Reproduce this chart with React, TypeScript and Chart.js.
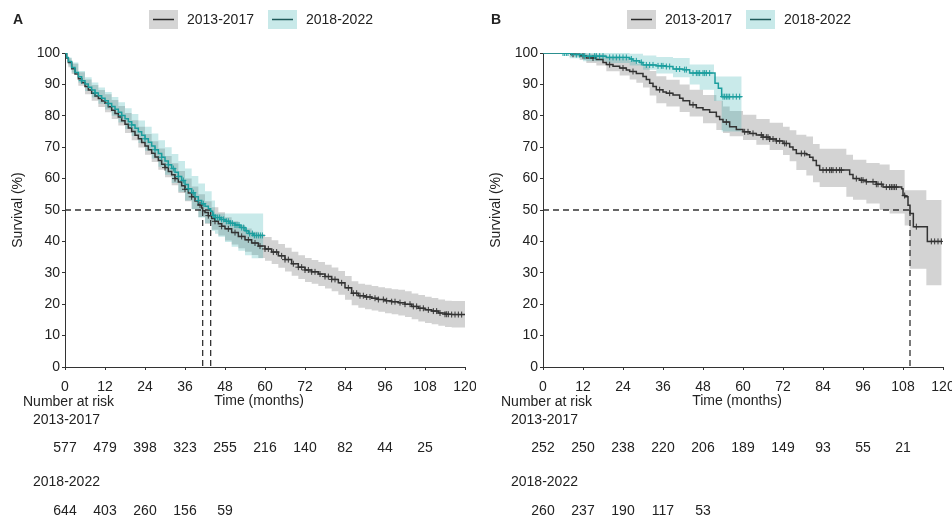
import React, { useEffect, useRef } from 'react';
import { Chart, registerables } from 'chart.js';

Chart.register(...registerables);

const FONT_FAMILY = '"Liberation Sans", Arial, Helvetica, sans-serif';
const TEXT_COLOR = '#222222';

const GROUP_LABELS = ['2013-2017', '2018-2022'];
const LINE_COLORS = ['#333333', '#1b9e9e'];
const LEGEND_LINE_COLORS = ['#2a2a2a', '#1f5a5a'];
const BAND_COLORS = ['rgba(140,140,140,0.38)', 'rgba(40,170,170,0.25)'];
const LEGEND_BOX_COLORS = ['#d5d5d5', '#c8e9e9'];
const RISK_TIMES = [0, 12, 24, 36, 48, 60, 72, 84, 96, 108];

// ---------- Panel A : 2013-2017 ----------
const A_OLD_T = [0,0.5,1,2,3,4,5,6,7,8,9,10,11,12,13,14,15,16,17,18,19,20,21,22,23,24,25,26,27,28,29,30,31,32,33,34,35,36,37,38,39,40,41,41.3,42,43,44,45,46,47,48,50,52,54,56,58,60,62,64,66,68,70,72,74,76,78,80,82,84,86,88,90,92,94,96,98,100,102,104,106,108,110,112,114,116,120];
const A_OLD_S = [100,98.4,97,95,93.3,91.8,90.5,89.3,88.2,87.2,86.3,85.5,84.7,84,82.9,81.8,80.7,79.6,78.4,77.3,76.1,75,73.8,72.7,71.5,70.4,69.2,68.1,66.9,65.8,64.6,63.5,62.3,61.2,60,58.9,57.7,56.6,55.4,54.2,52.9,51.6,50.6,49.8,49.2,48.2,47.3,46.4,45.6,44.8,44,42.8,41.6,40.5,39.5,38.5,37.6,36.6,35.4,34.2,32.9,31.8,30.9,30.3,29.6,28.8,27.9,26.8,25.2,23.5,22.7,22.3,21.9,21.5,21.1,20.8,20.5,20,19.3,18.7,18.2,17.8,17.2,16.8,16.7,16.7];
const A_OLD_BAND_T = [0,1,2,4,6,8,10,12,14,16,18,20,22,24,26,28,30,32,34,36,38,40,42,44,46,48,50,52,54,56,58,60,62,64,66,68,70,72,74,76,78,80,82,84,86,88,90,92,94,96,98,100,102,104,106,108,110,112,114,116,120];
const A_OLD_LO = [100,95.5,93.3,89.6,86.9,84.8,82.8,81.1,79,76.9,74.5,72.2,69.9,67.6,65.3,62.8,60.4,57.9,55.4,52.8,50.3,47.8,45.6,43.7,41.9,40.3,39,37.8,36.7,35.7,34.7,33.8,32.8,31.6,30.4,29.1,28,27.1,26.5,25.8,25,24.1,23,21.4,19.7,18.9,18.4,18,17.6,17.1,16.8,16.4,15.9,15.2,14.5,14,13.6,13.1,12.7,12.6,12.6];
const A_OLD_HI = [100,98.3,96.6,93.9,91.6,89.8,88.2,86.9,85,83.1,80.9,78.6,76.5,74.2,71.9,69.6,67.2,64.9,62.4,60,57.5,55,52.8,50.9,49.3,47.7,46.4,45.2,44.1,43.1,42.3,41.4,40.4,39.2,38,36.7,35.6,34.7,34.1,33.4,32.6,31.7,30.6,29,27.3,26.5,26.2,25.8,25.4,25.1,24.8,24.6,24.1,23.4,22.9,22.4,22,21.5,21.1,21,21];
const A_OLD_CENSOR = [30,33,36,38,40.5,43,45,47,49,51,53,55,57,58.5,60,61,62.5,63.5,65,66,67,68.5,70,71,72,73,74,75,76.5,78,79,80,81,83,85,86.5,87.5,88.5,89.5,90.5,91.5,93,94,95.5,96.5,98,99,100.5,102,103.5,104.5,105.5,106.5,107.5,109,110.5,111.5,112.5,114,114.5,115,116,117,118,119];

// ---------- Panel A : 2018-2022 ----------
const A_NEW_T = [0,0.5,1,2,3,4,5,6,7,8,9,10,11,12,13,14,15,16,17,18,19,20,21,22,23,24,25,26,27,28,29,30,31,32,33,34,35,36,37,38,39,40,41,42,43,43.7,44.3,45,46.5,48,49.5,51,52.5,54,55,56.5,59.5];
const A_NEW_S = [100,98.6,97.3,95.4,93.8,92.4,91.2,90.1,89.1,88.2,87.3,86.4,85.6,84.8,83.9,83,82.1,81.1,80.1,79.1,78.1,77.1,76,74.9,73.8,72.7,71.6,70.4,69.2,68,66.8,65.6,64.4,63.2,62,60.7,59.4,58.1,56.8,55.5,54.2,53,52,51.2,50.4,49.6,48.3,47.6,47,46.4,45.8,45.2,44.4,43.4,42.5,41.9,41.9];
const A_NEW_BAND_T = [0,1,2,4,6,8,10,12,14,16,18,20,22,24,26,28,30,32,34,36,38,40,42,44,45,46,48,50,52,54,56,59.5];
const A_NEW_LO = [100,96,93.8,90.5,87.9,85.8,83.8,82,80,77.9,75.8,73.6,71.3,68.9,66.4,63.8,61.2,58.6,55.8,53,50.2,47.6,45.8,43.4,42.4,41.5,39.8,38.3,37,35.6,34.6,34.6];
const A_NEW_HI = [100,98.6,97,94.3,92.3,90.6,89,87.6,86,84.3,82.4,80.6,78.5,76.5,74.4,72.2,70,67.8,65.6,63.2,60.8,58.4,56,53,48.9,48.9,48.9,48.9,48.9,48.9,48.9,48.9];
const A_NEW_CENSOR = [5,9,13,17,20,24,27,29,31,32.5,34,35.5,37,38.5,40,41.5,44.6,45.2,45.8,46.4,47,47.6,48.4,49,49.6,50.2,51,51.6,52.2,53,53.6,54.4,55.4,56.2,56.8,57.4,58,58.6,59.2];

const A_MEDIANS = [41.3, 43.7];
const A_RISK_OLD = [577, 479, 398, 323, 255, 216, 140, 82, 44, 25];
const A_RISK_NEW = [644, 403, 260, 156, 59];

// ---------- Panel B : 2013-2017 ----------
const B_OLD_T = [0,8,9,11,13,16,18,19,21,23,25,26,28,30,31,32,33,34,36,37,39,41,42,44,46,48,50,52,53,54,56,58,60,62,64,66,68,70,72,74,75,76,79,80,81,82,83,91,92,93,95,97,100,102,107.6,108,108.6,109.5,110.1,111.1,115.3,119.6];
const B_OLD_S = [100,100,99.6,99.1,98.4,97.9,97,96.3,95.8,95.2,94.6,94.1,93.5,92.5,91.6,90.4,89.3,88.3,87.6,87.2,86.6,85.6,84.8,83.5,82.6,81.9,81.1,79.8,78.8,78,76.5,75.6,74.9,74.4,73.9,73.2,72.6,72,71.2,70.1,69.2,68,67.6,66.8,65.8,64.2,62.7,62.7,61.3,60,59.5,59,58.2,57.3,56.8,54.6,54.2,51.5,48.9,44.7,40,40];
const B_OLD_BAND_T = [0,8,11,13,16,19,23,26,28,30,32,34,37,41,44,48,52,54,56,60,64,68,72,74,76,79,81,83,91,93,97,101,104,108.5,110,115,119.6];
const B_OLD_LO = [100,98.8,97.8,96.8,96,94.2,92.8,91.6,90.5,89,86.5,84,83,81.2,79.8,77.6,75.5,74.5,73.5,72.3,70.8,69.1,67.5,65.5,62.7,61,58.8,57.3,54.2,53.3,52.1,50,48.9,45.1,31.3,26,26];
const B_OLD_HI = [100,100,100,99.8,99.5,98.8,98.2,97.4,96.6,95.8,94.3,92.6,91.5,90,88.3,86.6,84.8,83,81.5,80.3,79,77.8,76.5,75.4,74,73.4,71,69.5,67.6,66,65,64.5,62.7,56.3,56.3,53.2,53.2];
const B_OLD_CENSOR = [9,12,15,20,24,27,35,38,45,55,60.5,61.5,63,65.5,66,67,67.5,68,69,70,71,72.5,73,77.5,78.5,84,85,86,86.5,87,88,89,89.5,94,95.5,96,97,99,100,100.5,101.5,103,104,104.5,105,105.5,106,108.5,112,116.5,117.5,118.5,119.5];

// ---------- Panel B : 2018-2022 ----------
const B_NEW_T = [0,8,9,12,19,26,27,29,30,34,37,39,42,44,50.6,51.6,52.6,53.6,59.6];
const B_NEW_S = [100,100,99.5,99,98.6,98.1,97.5,97,96.2,95.9,95.7,94.9,94.7,93.6,93.6,90.4,88.8,86.1,86.1];
const B_NEW_BAND_T = [0,8,12,19,26,30,34,39,44,47,51.3,53.6,59.6];
const B_NEW_LO = [100,98.3,97.4,96.8,96,94.7,93.5,92.3,90,88.3,84.7,75,75];
const B_NEW_HI = [100,100,100,100,99.8,99.2,98.7,98.4,96.3,96.3,92.5,92.5,92.5];
const B_NEW_CENSOR = [6,6.5,7,7.5,8.5,10,11,12.5,14,15.5,16,17,18,20,21,22,23,24,25,26.5,28,29.5,31,32,33,34.5,35.5,36,37,38,40,41,42.5,43,45,46,46.5,47,48,48.5,49,50,54,54.5,55,55.5,56,57,58,59];

const B_MEDIANS = [110.1];
const B_RISK_OLD = [252, 250, 238, 220, 206, 189, 149, 93, 55, 21];
const B_RISK_NEW = [260, 237, 190, 117, 53];

type Series = { t: number[]; s: number[]; bandT: number[]; lo: number[]; hi: number[]; cens: number[] };
type Panel = {
  letter: string;
  areaLeft: number;
  padRight: number;
  series: Series[];
  medians: number[];
  risk: number[][];
};

const PANELS: Panel[] = [
  {
    letter: 'A', areaLeft: 65, padRight: 11,
    series: [
      { t: A_OLD_T, s: A_OLD_S, bandT: A_OLD_BAND_T, lo: A_OLD_LO, hi: A_OLD_HI, cens: A_OLD_CENSOR },
      { t: A_NEW_T, s: A_NEW_S, bandT: A_NEW_BAND_T, lo: A_NEW_LO, hi: A_NEW_HI, cens: A_NEW_CENSOR },
    ],
    medians: A_MEDIANS,
    risk: [A_RISK_OLD, A_RISK_NEW],
  },
  {
    letter: 'B', areaLeft: 67, padRight: 9,
    series: [
      { t: B_OLD_T, s: B_OLD_S, bandT: B_OLD_BAND_T, lo: B_OLD_LO, hi: B_OLD_HI, cens: B_OLD_CENSOR },
      { t: B_NEW_T, s: B_NEW_S, bandT: B_NEW_BAND_T, lo: B_NEW_LO, hi: B_NEW_HI, cens: B_NEW_CENSOR },
    ],
    medians: B_MEDIANS,
    risk: [B_RISK_OLD, B_RISK_NEW],
  },
];

function toPoints(t: number[], v: number[]) {
  const n = Math.min(t.length, v.length);
  const out: { x: number; y: number }[] = [];
  for (let i = 0; i < n; i++) out.push({ x: t[i], y: v[i] });
  return out;
}

// Kaplan-Meier value at a time (value of the last step at or before t)
function kmAt(t: number[], s: number[], x: number) {
  let v = s[0];
  for (let i = 0; i < t.length; i++) {
    if (t[i] <= x) v = s[i];
    else break;
  }
  return v;
}

function overlayPlugin(panel: Panel) {
  return {
    id: 'overlay' + panel.letter,
    afterDraw(chart: any) {
      const { ctx, chartArea: a } = chart;
      const xs = chart.scales.x;
      const cx = (a.left + a.right) / 2;
      ctx.save();
      ctx.fillStyle = TEXT_COLOR;
      ctx.textBaseline = 'middle';
      ctx.textAlign = 'left';
      ctx.font = `bold 14px ${FONT_FAMILY}`;
      ctx.fillText(panel.letter, a.left - 52, 20.5);

      ctx.font = `14px ${FONT_FAMILY}`;
      const lx = cx - 116;
      const offs = [0, 119];
      GROUP_LABELS.forEach((lab, i) => {
        const bx = lx + offs[i];
        ctx.fillStyle = LEGEND_BOX_COLORS[i];
        ctx.fillRect(bx, 10, 29, 19);
        ctx.strokeStyle = LEGEND_LINE_COLORS[i];
        ctx.lineWidth = 1.5;
        ctx.beginPath();
        ctx.moveTo(bx + 4, 19.5);
        ctx.lineTo(bx + 25, 19.5);
        ctx.stroke();
        ctx.fillStyle = TEXT_COLOR;
        ctx.fillText(lab, bx + 38, 20);
      });

      ctx.save();
      ctx.translate(a.left - 47, (a.top + a.bottom) / 2);
      ctx.rotate(-Math.PI / 2);
      ctx.textAlign = 'center';
      ctx.fillText('Survival (%)', 0, 0);
      ctx.restore();

      ctx.textAlign = 'center';
      ctx.fillText('Time (months)', cx - 6, 401);
      ctx.textAlign = 'left';
      ctx.fillText('Number at risk', a.left - 42, 402);
      ctx.fillText(GROUP_LABELS[0], a.left - 32, 420);
      ctx.fillText(GROUP_LABELS[1], a.left - 32, 482);
      ctx.textAlign = 'center';
      const rowY = [448.5, 511];
      panel.risk.forEach((row, r) => {
        row.forEach((n, i) => {
          ctx.fillText(String(n), xs.getPixelForValue(RISK_TIMES[i]), rowY[r]);
        });
      });
      ctx.restore();
    },
  };
}

function buildConfig(panel: Panel): any {
  const datasets: any[] = [];
  panel.series.forEach((sr, i) => {
    datasets.push({
      data: toPoints(sr.bandT, sr.hi), stepped: true, fill: '+1', backgroundColor: BAND_COLORS[i],
      borderWidth: 0, borderColor: 'rgba(0,0,0,0)', pointRadius: 0, order: 20 - i,
    });
    datasets.push({
      data: toPoints(sr.bandT, sr.lo), stepped: true, fill: false,
      borderWidth: 0, borderColor: 'rgba(0,0,0,0)', pointRadius: 0, order: 20 - i,
    });
  });
  const maxMed = Math.max(...panel.medians);
  datasets.push({
    data: [{ x: 0, y: 50 }, { x: maxMed, y: 50 }], borderColor: '#333333', borderWidth: 1.3,
    borderDash: [6, 4], pointRadius: 0, fill: false, order: 12,
  });
  panel.medians.forEach((m) => {
    datasets.push({
      data: [{ x: m, y: 50 }, { x: m, y: 0 }], borderColor: '#333333', borderWidth: 1.3,
      borderDash: [6, 4], pointRadius: 0, fill: false, order: 12,
    });
  });
  panel.series.forEach((sr, i) => {
    datasets.push({
      data: toPoints(sr.t, sr.s), stepped: true, fill: false, borderColor: LINE_COLORS[i],
      borderWidth: 1.5, pointRadius: 0, order: 8 - 3 * i,
    });
    datasets.push({
      data: sr.cens.map((c) => ({ x: c, y: kmAt(sr.t, sr.s, c) })), showLine: false,
      pointStyle: 'cross', pointRadius: 3, pointBorderWidth: 1, pointBorderColor: LINE_COLORS[i],
      pointBackgroundColor: LINE_COLORS[i], borderColor: LINE_COLORS[i], order: 7 - 3 * i,
    });
  });

  const axisCommon = {
    border: { display: true, color: '#333333', width: 1 },
    grid: { display: true, drawOnChartArea: false, drawTicks: true, tickLength: 3, color: '#333333' },
  };

  return {
    type: 'line',
    data: { datasets },
    options: {
      responsive: false,
      animation: false,
      events: [],
      layout: { padding: { left: 0, right: panel.padRight, top: 53, bottom: 0 } },
      plugins: { legend: { display: false }, tooltip: { enabled: false } },
      scales: {
        x: {
          type: 'linear', min: 0, max: 120, z: 1,
          ...axisCommon,
          ticks: { stepSize: 12, color: TEXT_COLOR, padding: 9, maxRotation: 0, font: { family: FONT_FAMILY, size: 14 } },
          afterFit: (s: any) => { s.height = 520 - 367; s.paddingLeft = 0; s.paddingRight = 0; },
        },
        y: {
          type: 'linear', min: 0, max: 100, z: 1,
          ...axisCommon,
          ticks: { stepSize: 10, color: TEXT_COLOR, padding: 2, font: { family: FONT_FAMILY, size: 14 } },
          afterFit: (s: any) => { s.width = panel.areaLeft; },
        },
      },
    },
    plugins: [overlayPlugin(panel)],
  };
}

function KMPanel({ panel }: { panel: Panel }) {
  const ref = useRef<HTMLCanvasElement>(null);
  useEffect(() => {
    const chart = new Chart(ref.current as HTMLCanvasElement, buildConfig(panel));
    return () => chart.destroy();
  }, [panel]);
  return <canvas ref={ref} width={476} height={520} style={{ display: 'block', width: 476, height: 520 }} />;
}

export default function App() {
  return (
    <div style={{ position: 'absolute', left: 0, top: 0, width: 952, height: 520, display: 'flex', background: '#fff' }}>
      {PANELS.map((p) => (
        <KMPanel key={p.letter} panel={p} />
      ))}
    </div>
  );
}
